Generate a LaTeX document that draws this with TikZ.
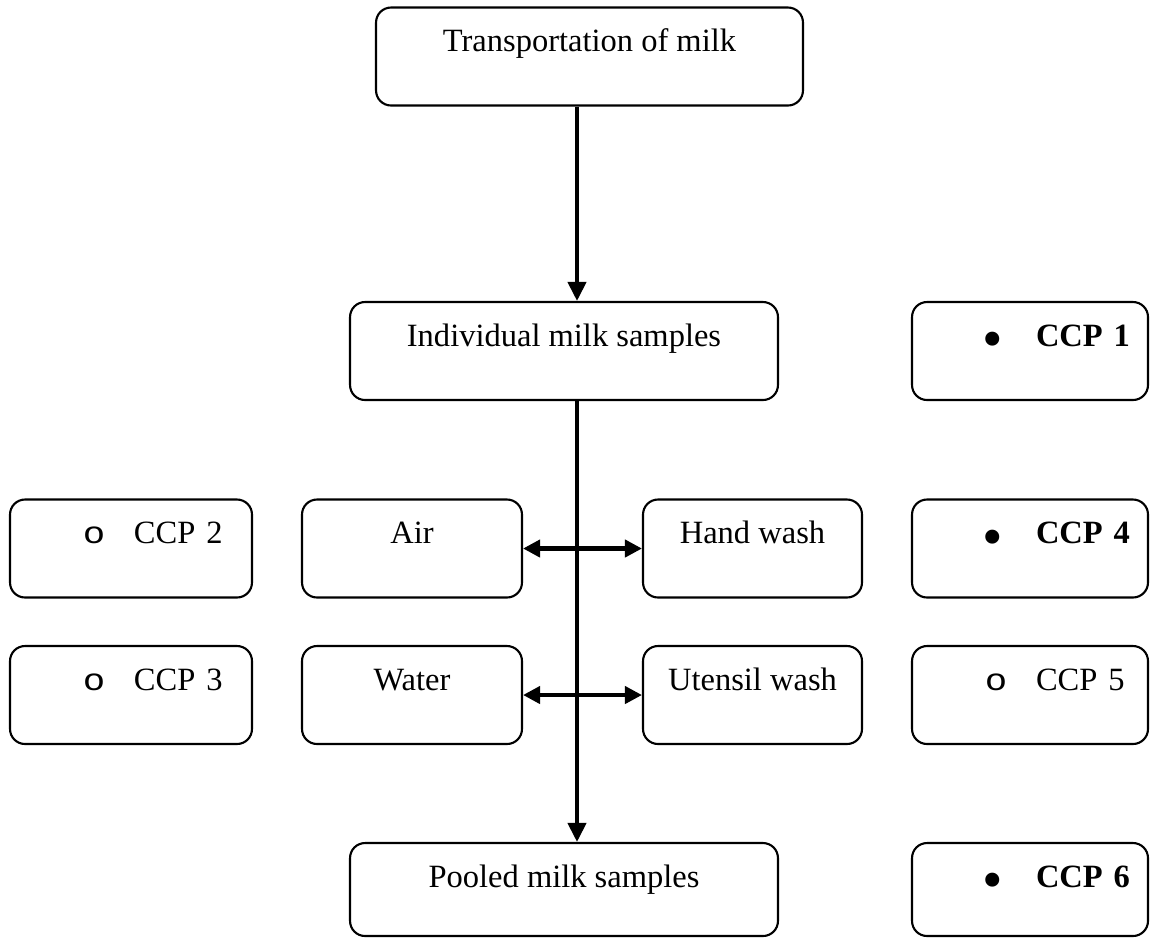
\documentclass[tikz,border=0pt]{standalone}
\usepackage{fontspec}
\setmainfont{Liberation Serif}
\newfontfamily\hollowfont{Liberation Mono}
\usetikzlibrary{arrows.meta}

\tikzset{
  stepbox/.style={draw,line width=1.2pt,rounded corners=0.3cm,inner xsep=0pt,inner ysep=0pt,
    text height=0.88cm,text depth=1.08cm,font=\fontsize{18.5pt}{22pt}\selectfont},
  ccpbox/.style={stepbox,text width=4.72cm,align=left},
  flow/.style={line width=2.3pt,-{Triangle[width=0.36cm,length=0.38cm]}},
  link/.style={line width=2.3pt,{Triangle[width=0.34cm,length=0.34cm]}-{Triangle[width=0.34cm,length=0.34cm]}}
}
\newcommand{\ccpfull}[1]{\hspace*{1.62cm}\makebox[0pt]{\raisebox{-0.25cm}{\scalebox{1.8}{\textbullet}}}\hspace*{0.86cm}\textbf{CCP #1}}
\newcommand{\ccpopen}[1]{\hspace*{1.68cm}\makebox[0pt]{\scalebox{1.15}[0.95]{\hollowfont o}}\hspace*{0.8cm}CCP #1}

\begin{document}
\begin{tikzpicture}[x=0.02cm,y=-0.02cm]
\useasboundingbox (0,0) rectangle (1152,938);

% main chain
\node[stepbox,minimum width=8.54cm] (trans) at (589.5,56.5) {Transportation of milk};
\node[stepbox,minimum width=8.56cm] (indiv) at (564,351) {Individual milk samples};
\node[stepbox,minimum width=8.56cm,text depth=0.98cm] (pooled) at (564,889.5) {Pooled milk samples};

% sources
\node[stepbox,minimum width=4.4cm] (air) at (412,548.5) {Air};
\node[stepbox,minimum width=4.4cm] (water) at (412,695) {Water};
\node[stepbox,minimum width=4.38cm] (hand) at (752.5,548.5) {Hand wash};
\node[stepbox,minimum width=4.38cm] (utensil) at (752.5,695) {Utensil wash};

% control points
\node[ccpbox] (ccp1) at (1030,351) {\ccpfull{1}};
\node[ccpbox,text width=4.84cm] (ccp2) at (131,548.5) {\ccpopen{2}};
\node[ccpbox,text width=4.84cm] (ccp3) at (131,695) {\ccpopen{3}};
\node[ccpbox] (ccp4) at (1030,548.5) {\ccpfull{4}};
\node[ccpbox] (ccp5) at (1030,695) {\ccpopen{5}};
\node[ccpbox,text depth=0.98cm] (ccp6) at (1030,889.5) {\ccpfull{6}};

\coordinate (spine) at (577,0);
\draw[flow] (trans.south -| spine) -- (indiv.north -| spine);
\draw[flow] (indiv.south -| spine) -- (pooled.north -| spine);
\draw[link] (air.east) -- (hand.west);
\draw[link] (water.east) -- (utensil.west);

\end{tikzpicture}
\end{document}
